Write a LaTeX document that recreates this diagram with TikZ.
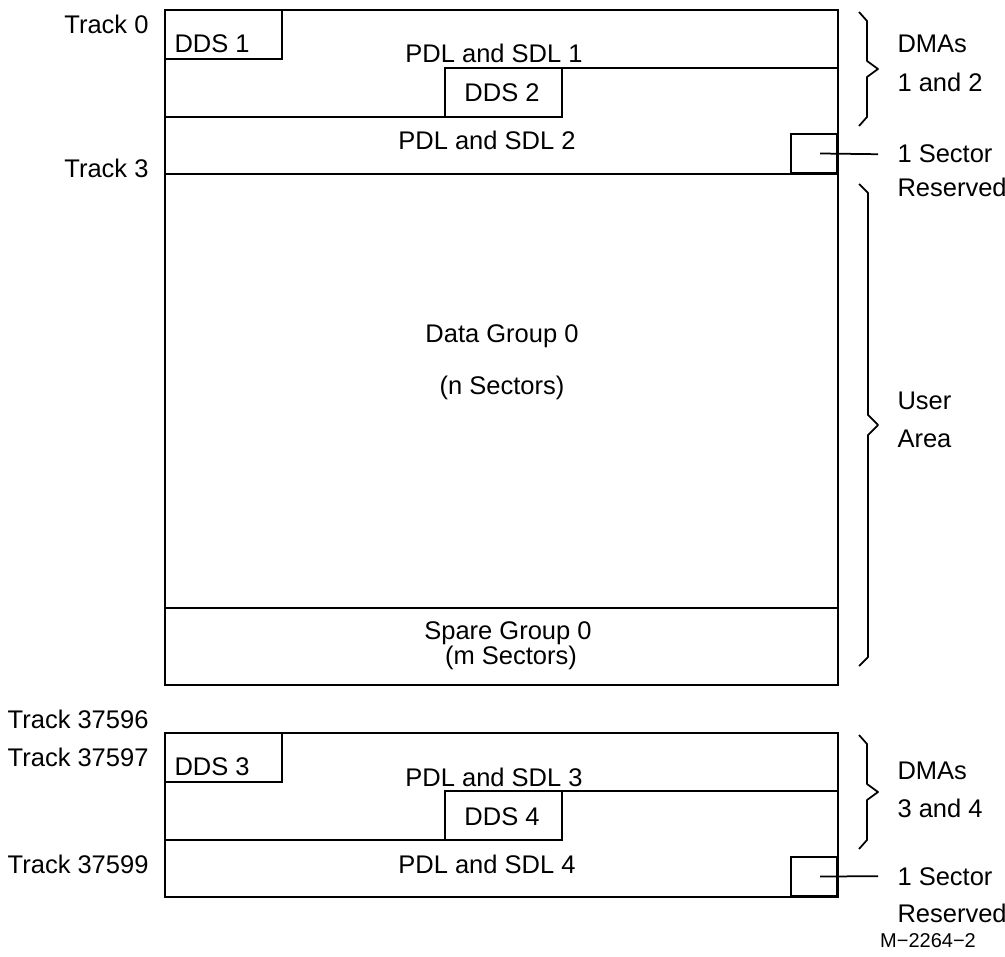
\documentclass[tikz,border=0pt]{standalone}
\usepackage{fontspec}
\setmainfont{Liberation Sans}
\usepackage{tikz}
\usetikzlibrary{positioning}

\begin{document}
\begin{tikzpicture}[
  x=0.4pt, y=-0.4pt,
  every node/.style={inner sep=0pt, font=\fontsize{10.2}{12}\selectfont},
  rule/.style={line width=0.8pt, line cap=rect},
  bracket/.style={line width=0.7pt, line join=round},
  lbl/.style={anchor=base},
  track/.style={anchor=base east},
  side/.style={anchor=base west},
  sector/.style={draw, line width=0.8pt, minimum width=18.4pt, minimum height=15.6pt},
  leader/.style={line width=0.7pt}
]
\useasboundingbox (0,0) rectangle (1005,957);

% --- TRACK LABELS ---
\node[track] (t0) at (149,34) {Track 0};
\node[track] (t3) at (149,178) {Track 3};
\node[track] (t37596) at (149,728) {Track 37596};
\node[track] (t37597) at (149,766) {Track 37597};
\node[track] (t37599) at (149,873) {Track 37599};

% --- MAIN AREA (DMAs 1 and 2, user area) ---
\draw[rule] (165,10) rectangle (838,685);
\draw[rule] (165,10) rectangle (282,59);
\draw[rule] (838,68) -- (445,68) -- (445,117) -- (165,117);
\draw[rule] (562,68) -- (562,117) -- (445,117);
\draw[rule] (165,174) -- (838,174);
\draw[rule] (165,608) -- (838,608);
\node[sector, anchor=south east] (rsv1) at (838,174) {};

\node[side] (dds1) at (174,53) {DDS 1};
\node[lbl] (pdl1) at (494,63) {PDL and SDL 1};
\node[lbl] (dds2) at (502,102) {DDS 2};
\node[lbl] (pdl2) at (487,150) {PDL and SDL 2};
\node[lbl] (data0) at (502,343) {Data Group 0};
\node[lbl] (nsec) at (502,395) {(n Sectors)};
\node[lbl] (spare0) at (508,639) {Spare Group 0};
\node[lbl] (msec) at (511,664) {(m Sectors)};

% --- LAST DMAs (3 and 4) ---
\draw[rule] (165,733) rectangle (838,897);
\draw[rule] (165,733) rectangle (282,782);
\draw[rule] (838,791) -- (445,791) -- (445,840) -- (165,840);
\draw[rule] (562,791) -- (562,840) -- (445,840);
\node[sector, anchor=south east] (rsv2) at (838,897) {};

\node[side] (dds3) at (174,775) {DDS 3};
\node[lbl] (pdl3) at (494,786) {PDL and SDL 3};
\node[lbl] (dds4) at (502,825) {DDS 4};
\node[lbl] (pdl4) at (487,873) {PDL and SDL 4};

% --- BRACES ---
\draw[bracket] (859,12) -- (867,21) -- (867,61) -- (878,69) -- (867,77) -- (867,117) -- (859,126);
\draw[bracket] (859,184) -- (868,193) -- (868,415) -- (878,425) -- (868,435) -- (868,657) -- (859,666);
\draw[bracket] (859,735) -- (867,744) -- (867,784) -- (878,792) -- (867,800) -- (867,840) -- (859,849);

% --- SIDE LABELS ---
\node[side] (dma12) at (897,53) {DMAs};
\node[side] (dma12b) at (897,92) {1 and 2};
\node[side] (sec1) at (897,163) {1 Sector};
\node[side] (res1) at (897,197) {Reserved};
\node[side] (user) at (897,410) {User};
\node[side] (area) at (897,448) {Area};
\node[side] (dma34) at (897,779) {DMAs};
\node[side] (dma34b) at (897,817) {3 and 4};
\node[side] (sec2) at (897,885) {1 Sector};
\node[side] (res2) at (897,922) {Reserved};

\draw[leader] ([xshift=2.4pt]rsv1.center) -- ([xshift=-7.6pt]sec1.west);
\draw[leader] ([xshift=2.4pt]rsv2.center) -- ([xshift=-7.6pt]sec2.west);

\node[lbl, font=\fontsize{8}{10}\selectfont] (fig) at (928,947) {M\textminus 2264\textminus 2};

\end{tikzpicture}
\end{document}
